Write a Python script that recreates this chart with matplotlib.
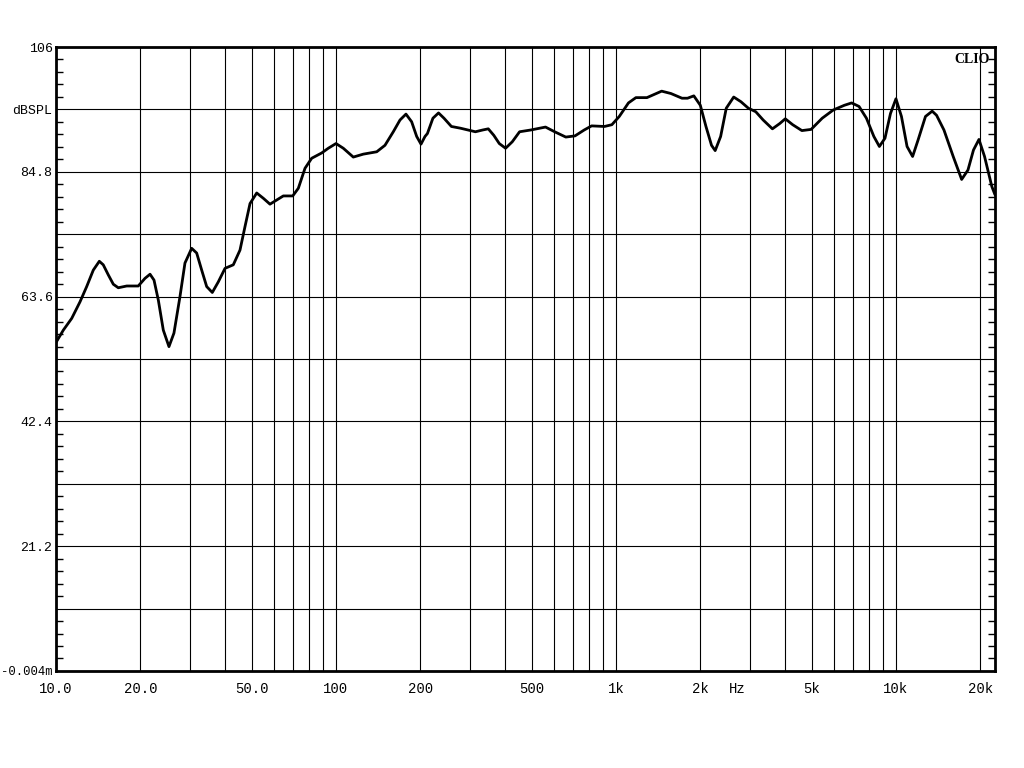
import matplotlib
matplotlib.use("Agg")
import matplotlib.pyplot as plt
import numpy as np
from matplotlib.ticker import FixedLocator, NullFormatter

# frequency response readings (Hz, dB SPL)
freq_hz = [10.0, 10.62, 11.38, 12.18, 12.87, 13.59, 14.28, 14.75, 15.37, 16.02,
           16.69, 17.89, 19.67, 20.79, 21.67, 22.39, 23.20, 24.17, 25.32, 26.38,
           27.72, 28.88, 30.52, 31.80, 33.14, 34.53, 36.16, 37.99, 40.15, 42.98,
           45.41, 47.32, 49.31, 52.10, 55.02, 58.11, 61.42, 64.84, 70.06, 73.37,
           77.51, 81.89, 88.92, 93.87, 100.0, 106.2, 115.3, 125.2, 139.8, 149.6,
           160.2, 169.3, 177.8, 186.3, 194.2, 201.2, 207.9, 212.1, 221.9, 232.4,
           243.1, 258.3, 278.6, 296.0, 314.7, 334.1, 349.9, 366.1, 383.0, 403.4,
           426.2, 452.6, 495.9, 560.2, 604.0, 661.9, 713.9, 769.9, 818.4, 909.7,
           966.9, 1027.5, 1108, 1178, 1290, 1392, 1456, 1571, 1721, 1801,
           1897, 2001, 2096, 2194, 2261, 2365, 2477, 2633, 2795, 2971,
           3157, 3355, 3620, 3846, 4024, 4277, 4613, 4976, 5451, 5972,
           6543, 6946, 7381, 7845, 8338, 8725, 9135, 9559, 10000, 10462,
           10955, 11467, 11994, 12748, 13470, 13964, 14839, 16012, 17164, 18077,
           18917, 19790, 20720, 22000, 22580]
spl_db = [55.8, 57.9, 59.9, 62.7, 65.3, 68.1, 69.6, 69.0, 67.3, 65.7,
          65.1, 65.4, 65.4, 66.7, 67.4, 66.4, 63.0, 57.9, 55.1, 57.4,
          63.6, 69.3, 71.8, 71.0, 68.1, 65.3, 64.3, 66.1, 68.4, 69.0,
          71.5, 75.5, 79.4, 81.2, 80.3, 79.3, 80.0, 80.7, 80.7, 82.0,
          85.4, 87.1, 88.0, 88.8, 89.6, 88.8, 87.3, 87.8, 88.2, 89.3,
          91.6, 93.6, 94.6, 93.3, 90.8, 89.5, 90.8, 91.3, 93.9, 94.8,
          93.9, 92.5, 92.2, 91.9, 91.6, 91.9, 92.1, 91.0, 89.6, 88.8,
          89.9, 91.6, 91.9, 92.4, 91.6, 90.7, 90.9, 91.9, 92.6, 92.5,
          92.8, 94.2, 96.5, 97.4, 97.4, 98.1, 98.5, 98.1, 97.3, 97.3,
          97.7, 96.1, 92.5, 89.3, 88.4, 90.8, 95.6, 97.5, 96.7, 95.6,
          95.0, 93.6, 92.1, 93.0, 93.8, 92.8, 91.8, 92.0, 93.9, 95.3,
          96.1, 96.5, 95.9, 93.9, 90.8, 89.1, 90.5, 94.7, 97.2, 94.2,
          89.1, 87.4, 90.2, 94.2, 95.1, 94.4, 91.9, 87.4, 83.5, 85.1,
          88.5, 90.3, 87.4, 82.3, 80.9]

x_grid = [20, 30, 40, 50, 60, 70, 80, 90, 100, 200, 300, 400, 500, 600, 700,
          800, 900, 1000, 2000, 3000, 4000, 5000, 6000, 7000, 8000, 9000,
          10000, 20000]
x_labels = {10: "10.0", 20: "20.0", 50: "50.0", 100: "100", 200: "200",
            500: "500", 1000: "1k", 2000: "2k", 5000: "5k", 10000: "10k",
            20000: "20k"}
y_major = [0, 10.6, 21.2, 31.8, 42.4, 53.0, 63.6, 74.2, 84.8, 95.4, 106]
y_labels = ["-0.004m", "", "21.2", "", "42.4", "", "63.6", "", "84.8",
            "dBSPL", "106"]

FONT = "Liberation Mono"

fig = plt.figure(figsize=(10.24, 7.68), dpi=100)
ax = fig.add_axes([56 / 1024, 1 - 671 / 768, 939 / 1024, 624 / 768])

ax.set_xscale("log")
ax.set_xlim(10, 22580)
ax.set_ylim(-0.004, 106)

ax.plot(freq_hz, spl_db, color="black", lw=2.0,
        solid_joinstyle="round", solid_capstyle="round")

# x: grid lines at every decade step, labels only on some, "Hz" as minor
xt = [10] + x_grid
ax.xaxis.set_major_locator(FixedLocator(xt))
ax.set_xticklabels([x_labels.get(v, "") for v in xt], fontfamily=FONT, fontsize=10)
ax.xaxis.set_minor_locator(FixedLocator([2700]))
ax.xaxis.set_minor_formatter(lambda v, p: "Hz")
ax.tick_params(axis="x", which="both", length=0, pad=8)
for lab in ax.xaxis.get_minorticklabels():
    lab.set_fontfamily(FONT)
    lab.set_fontsize(10)

# y: grid every 10.6, minor inward ticks every 2.12 on both sides
ax.yaxis.set_major_locator(FixedLocator(y_major))
ax.set_yticklabels(y_labels, fontfamily=FONT, fontsize=9.5)
ax.get_yticklabels()[0].set_fontsize(8.8)
ax.yaxis.set_minor_locator(FixedLocator(np.arange(0, 106.01, 2.12)))
ax.yaxis.set_minor_formatter(NullFormatter())
ax.tick_params(axis="y", which="major", length=0, pad=2.5)
ax.tick_params(axis="y", which="minor", direction="in", length=5, width=1,
               left=True, right=True)

ax.grid(True, which="major", color="black", lw=0.8)
for s in ax.spines.values():
    s.set_linewidth(2)

ax.text(0.994, 0.99, "CLIO", transform=ax.transAxes, ha="right", va="top",
        fontfamily="Liberation Serif", fontweight="bold", fontsize=10)

fig.savefig("out.png", dpi=100)
